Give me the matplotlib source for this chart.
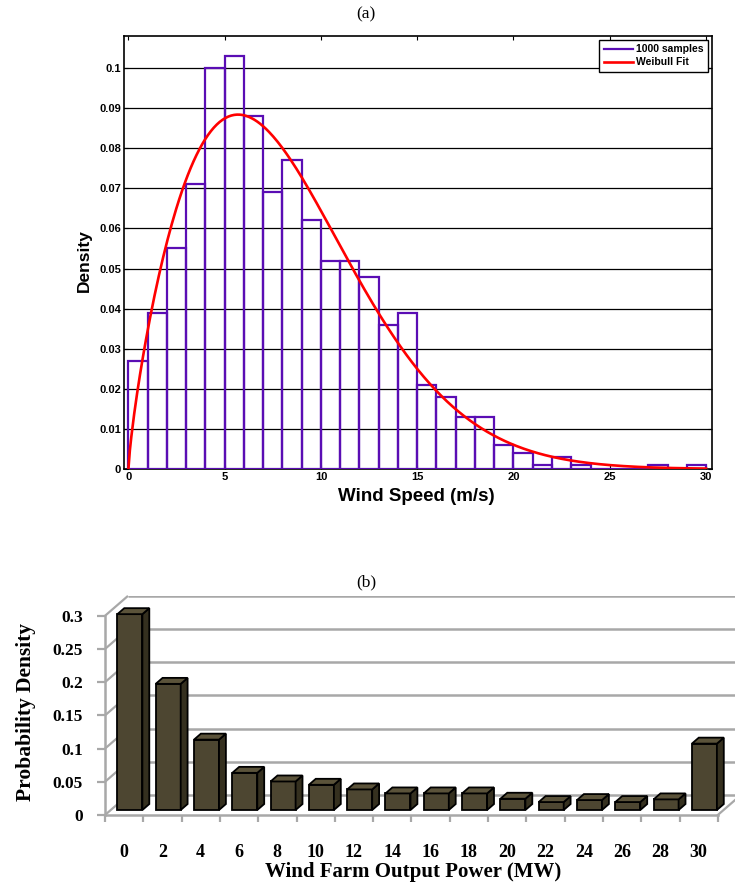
import numpy as np
import matplotlib
matplotlib.use("Agg")
import matplotlib.pyplot as plt
from matplotlib.patches import Polygon
from matplotlib.lines import Line2D

# ---- (a) wind speed histogram, 1 m/s bins from 0 to 30 ----
bin_edges = np.arange(0, 31)
hist_density = [0.027, 0.039, 0.055, 0.071, 0.100, 0.103, 0.088, 0.069, 0.077, 0.062,
                0.052, 0.052, 0.048, 0.036, 0.039, 0.021, 0.018, 0.013, 0.013, 0.006,
                0.004, 0.001, 0.003, 0.001, 0.0, 0.0, 0.0, 0.001, 0.0, 0.001]
weibull_shape = 1.78
weibull_scale = 9.05

# ---- (b) wind farm output power ----
power_labels = ["0", "2", "4", "6", "8", "10", "12", "14", "16", "18", "20",
                "22", "24", "26", "28", "30"]
power_density = [0.295, 0.19, 0.106, 0.056, 0.043, 0.038, 0.031, 0.025, 0.025, 0.025,
                 0.017, 0.012, 0.015, 0.012, 0.016, 0.100]

purple = "#5a0db4"
sans = "Liberation Sans"
serif = "Liberation Serif"

fig = plt.figure(figsize=(7.35, 8.9), dpi=100)

# ================= (a) =================
ax1 = fig.add_axes([124 / 735, 1 - 469 / 890, 588 / 735, 433 / 890])
ax1.bar(bin_edges[:-1], hist_density, width=1, align="edge", fill=False,
        edgecolor=purple, linewidth=1.6, zorder=3)
xs = np.linspace(0, 30, 400)
k, c = weibull_shape, weibull_scale
pdf = (k / c) * (xs / c) ** (k - 1) * np.exp(-(xs / c) ** k)
ax1.plot(xs, pdf, color="red", linewidth=1.9, zorder=4)

ax1.set_xlim(-0.23, 30.31)
ax1.set_ylim(0, 0.108)
yt = np.round(np.arange(0, 0.101, 0.01), 2)
ax1.set_yticks(yt)
ax1.set_yticklabels(["0"] + ["%g" % v for v in yt[1:]])
ax1.set_xticks(range(0, 31, 5))
ax1.yaxis.grid(True, color="black", linewidth=0.9)
ax1.set_axisbelow(True)
ax1.tick_params(direction="in", top=True, right=True, length=3, width=0.8,
                labelsize=8, pad=2)
for lab in ax1.get_xticklabels() + ax1.get_yticklabels():
    lab.set_fontfamily(sans)
    lab.set_fontweight("bold")
for sp in ax1.spines.values():
    sp.set_linewidth(1.2)
ax1.set_xlabel("Wind Speed (m/s)", fontfamily=sans, fontweight="bold",
               fontsize=13.5)
ax1.set_ylabel("Density", fontfamily=sans, fontweight="bold", fontsize=12.5)
ax1.xaxis.set_label_coords(292 / 588, -19 / 433)
ax1.yaxis.set_label_coords(-32 / 588, 208 / 433)
handles = [Line2D([], [], color=purple, linewidth=1.6),
           Line2D([], [], color="red", linewidth=1.9)]
leg = ax1.legend(handles, ["1000 samples", "Weibull Fit"], loc="upper right",
                 prop={"family": sans, "weight": "bold", "size": 7.5},
                 fancybox=False, edgecolor="black", framealpha=1,
                 borderaxespad=0.35, handlelength=2.8, handletextpad=0.3,
                 borderpad=0.45, labelspacing=0.3)
leg.get_frame().set_linewidth(1.0)

fig.text(366 / 735, 1 - 14 / 890, "(a)", ha="center", va="center",
         fontfamily=serif, fontsize=12.5)

# ================= (b) =================
ax2 = fig.add_axes([105 / 735, 1 - 815 / 890, 630 / 735, 219 / 890])
ax2.set_xlim(0, 630 / 38.3)
ax2.set_ylim(0, 219 / 664)
depth_x, depth_y = 0.6, 0.03
grid_col = "#a8a8a8"
ticks_b = [0, 0.05, 0.1, 0.15, 0.2, 0.25, 0.3]

for v in ticks_b:
    ax2.plot([0, depth_x], [v, v + depth_y], color=grid_col, linewidth=1.6,
             zorder=1, clip_on=False, solid_capstyle="butt")
    ax2.plot([depth_x, 20], [v + depth_y, v + depth_y], color=grid_col,
             linewidth=1.8, zorder=1, solid_capstyle="butt")
n = len(power_density)
ax2.plot([n, n + depth_x], [0, depth_y], color=grid_col, linewidth=1.6,
         zorder=1, clip_on=False)

face = "#4d4631"
side = "#35301f"
top = "#5b533a"
f0, fd, w = 0.25, 0.3, 0.653
for i, v in enumerate(power_density):
    x0 = i + 0.5 - w / 2 + f0 * depth_x
    y0 = f0 * depth_y
    x1 = x0 + w
    ddx, ddy = fd * depth_x, fd * depth_y
    front = Polygon([(x0, y0), (x1, y0), (x1, y0 + v), (x0, y0 + v)],
                    facecolor=face, edgecolor="black", linewidth=1.3, zorder=5)
    right = Polygon([(x1, y0), (x1 + ddx, y0 + ddy), (x1 + ddx, y0 + v + ddy),
                     (x1, y0 + v)], facecolor=side, edgecolor="black",
                    linewidth=1.3, zorder=5)
    cap = Polygon([(x0, y0 + v), (x1, y0 + v), (x1 + ddx, y0 + v + ddy),
                   (x0 + ddx, y0 + v + ddy)], facecolor=top, edgecolor="black",
                  linewidth=1.3, zorder=5)
    for p in (front, right, cap):
        ax2.add_patch(p)

for name in ("top", "right"):
    ax2.spines[name].set_visible(False)
ax2.spines["left"].set_bounds(0, 0.3)
ax2.spines["bottom"].set_bounds(0, n)
for name in ("left", "bottom"):
    ax2.spines[name].set_color(grid_col)
    ax2.spines[name].set_linewidth(1.8)

ax2.set_yticks(ticks_b)
ax2.set_yticklabels(["0", "0.05", "0.1", "0.15", "0.2", "0.25", "0.3"])
ax2.set_xticks(np.arange(n) + 0.5)
ax2.set_xticklabels(power_labels)
ax2.set_xticks(np.arange(n + 1), minor=True)
ax2.tick_params(axis="y", length=6, width=1.6, color=grid_col, pad=10,
                labelsize=12.5)
ax2.tick_params(axis="x", which="major", length=0, pad=21, labelsize=13)
ax2.tick_params(axis="x", which="minor", length=5, width=1.6, color=grid_col)
for lab in ax2.get_xticklabels() + ax2.get_yticklabels():
    lab.set_fontfamily(serif)
    lab.set_fontweight("bold")
ax2.set_xlabel("Wind Farm Output Power (MW)", fontfamily=serif,
               fontweight="bold", fontsize=15)
ax2.set_ylabel("Probability Density", fontfamily=serif, fontweight="bold",
               fontsize=15.5)
ax2.xaxis.set_label_coords(308 / 630, -47 / 219)
ax2.yaxis.set_label_coords(-69 / 630, 103 / 219)

fig.text(366 / 735, 1 - 582 / 890, "(b)", ha="center", va="center",
         fontfamily=serif, fontsize=12.5)

fig.savefig("out.png", dpi=100)
